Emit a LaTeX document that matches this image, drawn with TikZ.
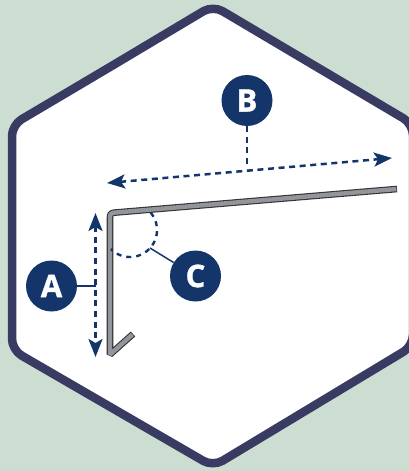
\documentclass[tikz,border=0pt]{standalone}
\usepackage{fontspec}
\setmainfont{Open Sans}[BoldFeatures={FakeBold=1.2}]
\usetikzlibrary{arrows.meta}
\definecolor{bgmint}{HTML}{CCDED2}
\definecolor{hexline}{HTML}{3A3B63}
\definecolor{navy}{HTML}{13356A}
\definecolor{steel}{HTML}{92969B}
\tikzset{
  x=1pt,y=-1pt,
  badge/.style={circle,fill=navy,text=white,minimum size=51pt,inner sep=0pt,font=\fontsize{31}{31}\selectfont\bfseries},
  leader/.style={draw=navy,line width=1.5pt},
  dimline/.style={draw=navy,line width=2.5pt,dash pattern=on 6pt off 4.6pt},
  dimarrow/.style={dimline,{Stealth[length=18pt,width=14pt,inset=4pt]}-{Stealth[length=18pt,width=14pt,inset=4pt]}},
  hexagon/.style={draw=hexline,fill=white,line width=8.5pt,rounded corners=11pt,line join=round},
  stripedge/.style={draw=black!80,line width=6.6pt,line join=bevel},
  stripcore/.style={draw=steel,line width=4.4pt,line join=bevel},
}
\begin{document}
\begin{tikzpicture}
\useasboundingbox (0,0) rectangle (409,471);
\clip (0,0) rectangle (409,471);
\fill[bgmint] (0,0) rectangle (409,471);
\path[hexagon] (110,67) -- (213,5.5) -- (413,124) -- (413,346) -- (213,466.5) -- (12,350) -- (12,125) -- cycle;
% bent strip
\path[stripedge] (397,189) -- (117,212.4) .. controls (110,213) .. (110,220) -- (110,354.5) -- (133,334);
\path[stripcore] (396.4,189.05) -- (117,212.4) .. controls (110,213) .. (110,220) -- (110,354.5) -- (132.4,334.5);
% coordinates
\coordinate (hl) at (107,183);
\coordinate (hr) at (392,158);
\coordinate (vt) at (95.5,213);
\coordinate (vb) at (95.5,357);
\coordinate (bfoot) at (247,166);
\coordinate (afoot) at (95.5,286);
\coordinate (cfoot) at (150,248);
% badges
\node[badge] (B) at (247,100.5) {B};
\node[badge] (A) at (51.5,286) {A};
\node[badge] (C) at (195.5,276) {C};
% dimension lines
\draw[dimarrow] (hl) -- (hr);
\draw[dimarrow] (vt) -- (vb);
\draw[dimline] (B) -- (bfoot);
\draw[leader] (A) -- (afoot);
\draw[leader] (C) -- (cfoot);
\draw[navy,line width=2.4pt,dash pattern=on 5pt off 5pt] plot[domain=-40:135,samples=50,smooth] ({130+27*cos(\x)},{230+27*sin(\x)});
\end{tikzpicture}
\end{document}
